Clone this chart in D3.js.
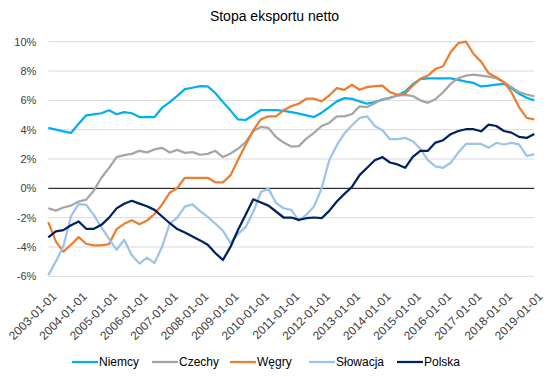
<!DOCTYPE html>
<html>
<head>
<meta charset="utf-8">
<script src="https://cdn.jsdelivr.net/npm/d3@7"></script>
<style>
  body { margin: 0; background: #fff; }
  text { font-family: "Liberation Sans", Arial, sans-serif; fill: #404040; }
</style>
</head>
<body>
<div id="chart"></div>
<script>
// quarterly data, 2003-01-01 .. 2019-01-01 (net export rate, %)
var startDate = "2003-01-01";

var niemcy = [4.12,4.0,3.88,3.78,4.4,4.98,5.05,5.12,5.32,5.05,5.2,5.12,4.86,4.86,4.86,5.5,5.88,6.3,6.76,6.86,
  6.97,6.95,6.5,5.88,5.3,4.7,4.66,5.0,5.34,5.34,5.34,5.28,5.2,5.1,4.98,4.86,5.16,5.54,5.93,6.15,
  6.1,5.93,5.77,5.88,6.04,6.18,6.33,6.6,7.1,7.45,7.5,7.5,7.5,7.5,7.4,7.28,7.19,6.95,7.0,7.08,
  7.13,6.83,6.45,6.18,6.0];

var czechy = [-1.36,-1.52,-1.31,-1.18,-0.9,-0.77,-0.16,0.72,1.4,2.13,2.26,2.35,2.56,2.45,2.65,2.76,2.44,2.62,2.42,2.47,
  2.29,2.35,2.56,2.13,2.38,2.7,3.15,3.9,4.19,4.12,3.5,3.12,2.85,2.88,3.39,3.78,4.25,4.46,4.91,4.91,
  5.07,5.59,5.54,5.81,6.09,6.15,6.33,6.38,6.29,6.0,5.83,6.08,6.55,7.13,7.51,7.69,7.76,7.69,7.62,7.51,
  7.24,6.9,6.56,6.4,6.27];

var wegry = [-2.31,-3.62,-4.32,-3.85,-3.33,-3.78,-3.89,-3.89,-3.8,-2.78,-2.42,-2.17,-2.45,-2.2,-1.75,-1.1,-0.3,0.02,0.72,0.72,
  0.72,0.72,0.41,0.41,0.9,1.95,2.95,3.96,4.7,4.91,4.91,5.32,5.61,5.77,6.11,6.11,5.93,6.33,6.83,6.72,
  7.06,6.72,6.9,6.97,7.01,6.56,6.38,6.45,7.01,7.47,7.69,8.14,8.33,9.3,9.9,10.0,9.16,8.64,7.85,7.58,
  7.24,6.56,5.54,4.8,4.7];

var slowacja = [-5.93,-5.0,-3.95,-1.9,-1.07,-1.13,-1.81,-2.67,-3.44,-4.2,-3.51,-4.57,-5.13,-4.72,-5.1,-3.97,-2.4,-2.0,-1.25,-1.1,
  -1.55,-1.95,-2.4,-2.9,-3.73,-3.1,-2.65,-1.6,-0.25,-0.02,-1.0,-1.36,-1.47,-2.2,-1.81,-1.24,0.0,1.92,2.94,3.75,
  4.3,4.8,4.91,4.25,3.96,3.35,3.35,3.44,3.21,2.71,1.92,1.5,1.4,1.74,2.44,3.03,3.03,3.03,2.76,3.1,
  2.99,3.1,3.0,2.22,2.31];

var polska = [-3.35,-2.94,-2.85,-2.52,-2.26,-2.76,-2.76,-2.49,-2.0,-1.37,-1.05,-0.85,-1.04,-1.22,-1.47,-1.92,-2.38,-2.78,-3.01,-3.28,
  -3.55,-3.85,-4.41,-4.89,-3.98,-2.83,-1.81,-0.75,-0.97,-1.18,-1.58,-1.99,-1.99,-2.15,-2.04,-1.99,-2.04,-1.54,-0.9,-0.38,
  0.11,0.9,1.4,1.92,2.13,1.76,1.63,1.4,2.15,2.56,2.56,3.12,3.28,3.69,3.91,4.03,4.03,3.89,4.34,4.25,
  3.91,3.8,3.51,3.44,3.71];

var seriesNames = ["Niemcy", "Czechy", "Węgry", "Słowacja", "Polska"];
var seriesColors = ["#00B0F0", "#A5A5A5", "#ED7D31", "#9DC3E6", "#002060"];
var yTicks = [-6, -4, -2, 0, 2, 4, 6, 8, 10];

var svgWidth = 547;
var svgHeight = 377;
var margin = { top: 41.7, right: 12.7, bottom: 100.7, left: 48.3 };
var chartWidth = svgWidth - margin.left - margin.right;
var chartHeight = svgHeight - margin.top - margin.bottom;

var svg = d3.select("#chart").append("svg")
  .attr("width", svgWidth)
  .attr("height", svgHeight);

var chartGroup = svg.append("g")
  .attr("transform", `translate(${margin.left}, ${margin.top})`);

var parse = d3.timeParse("%Y-%m-%d");
var t0 = parse(startDate);
var dates = niemcy.map((d, i) => d3.timeMonth.offset(t0, 3 * i));

var x = d3.scaleTime()
  .domain([t0, dates[dates.length - 1]])
  .range([0, chartWidth]);
var y = d3.scaleLinear().domain([-6, 10]).range([chartHeight, 0]);

// gridlines
chartGroup.selectAll("line.grid")
  .data(yTicks.filter(d => d !== 0))
  .enter().append("line")
  .attr("class", "grid")
  .attr("x1", 0).attr("x2", chartWidth)
  .attr("y1", d => y(d)).attr("y2", d => y(d))
  .attr("stroke", "#D9D9D9")
  .attr("stroke-width", 1);

// y axis labels
var leftAxis = d3.axisLeft(y).tickValues(yTicks).tickSize(0).tickPadding(12)
  .tickFormat(d => d + "%");
var gy = chartGroup.append("g").call(leftAxis);
gy.select(".domain").remove();
gy.selectAll("text").style("font-size", "11px").style("fill", "#404040");

// x axis along the zero line
var xTicks = d3.timeYear.range(t0, d3.timeYear.offset(dates[dates.length - 1], 1));
var gx = chartGroup.append("g");
gx.append("line")
  .attr("x1", 0).attr("x2", chartWidth)
  .attr("y1", y(0)).attr("y2", y(0))
  .attr("stroke", "#000").attr("stroke-width", 1);

gx.selectAll("text")
  .data(xTicks)
  .enter().append("text")
  .attr("transform", d => `translate(${x(d) + 6}, ${chartHeight + 18}) rotate(-45)`)
  .attr("text-anchor", "end")
  .attr("dy", "0.35em")
  .style("font-size", "12px")
  .text(d3.timeFormat("%Y-%m-%d"));

// lines
var allSeries = [niemcy, czechy, wegry, slowacja, polska];
var line = d3.line()
  .x((d, i) => x(dates[i]))
  .y(d => y(d));

chartGroup.selectAll("path.series")
  .data(allSeries)
  .enter().append("path")
  .attr("class", "series")
  .attr("d", d => line(d))
  .attr("fill", "none")
  .attr("stroke", (d, i) => seriesColors[i])
  .attr("stroke-width", 2.25)
  .attr("stroke-linejoin", "round");

// title
svg.append("text")
  .attr("x", 274.5)
  .attr("y", 20.5)
  .attr("text-anchor", "middle")
  .style("font-size", "14px")
  .style("fill", "#000")
  .text("Stopa eksportu netto");

// legend
var legendX = [72, 152, 230, 309, 397];
var legend = svg.append("g").attr("transform", "translate(0, 362)");
seriesNames.forEach(function(name, i) {
  legend.append("line")
    .attr("x1", legendX[i]).attr("x2", legendX[i] + 26)
    .attr("y1", 0).attr("y2", 0)
    .attr("stroke", seriesColors[i])
    .attr("stroke-width", 2.25);
  legend.append("text")
    .attr("x", legendX[i] + 27)
    .attr("dy", "0.35em")
    .style("font-size", "12px")
    .style("fill", "#000")
    .text(name);
});
</script>
</body>
</html>
